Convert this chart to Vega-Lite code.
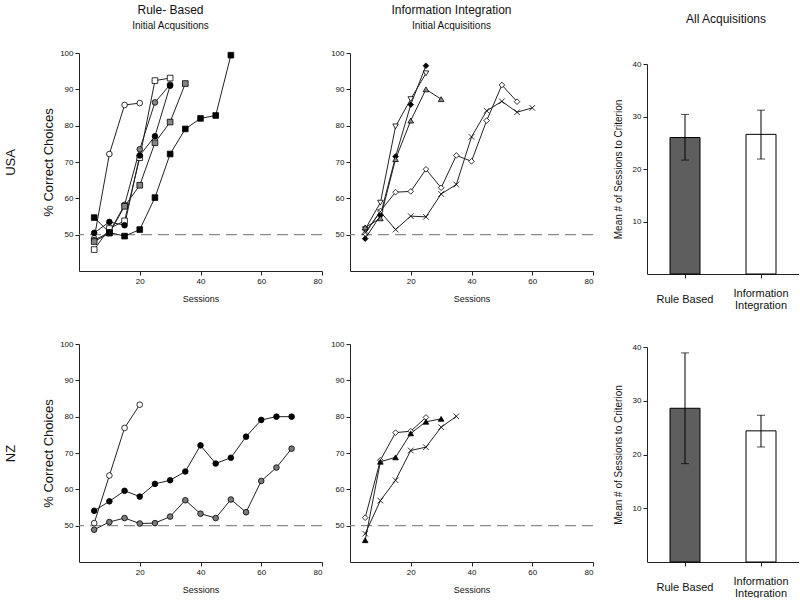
{
  "$schema": "https://vega.github.io/schema/vega-lite/v6.json",
  "background": "#ffffff",
  "padding": {"left": 4, "top": 4, "right": 0, "bottom": 0},
  "autosize": {"type": "pad"},
  "config": {
    "font": "Liberation Sans",
    "view": {"stroke": null},
    "axis": {"domainColor": "#222", "tickColor": "#222", "labelColor": "#111", "titleColor": "#111", "labelFont": "Liberation Sans", "titleFont": "Liberation Sans", "labelFontSize": 8, "titleFontWeight": "normal", "grid": false, "tickSize": 4, "labelPadding": 2, "domainWidth": 1, "tickWidth": 1},
    "title": {"font": "Liberation Sans", "subtitleFont": "Liberation Sans", "fontWeight": "normal", "color": "#111", "subtitleColor": "#111"}
  },
  "datasets": {
    "chance": [{"pct": 50}],
    "bars": [
      {"country": "USA", "group": "Rule Based", "mean": 26.0, "lo": 21.7, "hi": 30.4},
      {"country": "USA", "group": "Information Integration", "mean": 26.6, "lo": 21.9, "hi": 31.2},
      {"country": "NZ", "group": "Rule Based", "mean": 28.6, "lo": 18.3, "hi": 38.9},
      {"country": "NZ", "group": "Information Integration", "mean": 24.4, "lo": 21.4, "hi": 27.3}
    ],
    "curves": [
      {"panel": "RB-USA", "series": "RU1", "session": 5, "pct": 49},
      {"panel": "RB-USA", "series": "RU1", "session": 10, "pct": 72.2},
      {"panel": "RB-USA", "series": "RU1", "session": 15, "pct": 85.7},
      {"panel": "RB-USA", "series": "RU1", "session": 20, "pct": 86.2},
      {"panel": "RB-USA", "series": "RU2", "session": 5, "pct": 45.9},
      {"panel": "RB-USA", "series": "RU2", "session": 10, "pct": 51.7},
      {"panel": "RB-USA", "series": "RU2", "session": 15, "pct": 53.8},
      {"panel": "RB-USA", "series": "RU2", "session": 20, "pct": 71.2},
      {"panel": "RB-USA", "series": "RU2", "session": 25, "pct": 92.4},
      {"panel": "RB-USA", "series": "RU2", "session": 30, "pct": 93.1},
      {"panel": "RB-USA", "series": "RU3", "session": 5, "pct": 48.5},
      {"panel": "RB-USA", "series": "RU3", "session": 10, "pct": 50.6},
      {"panel": "RB-USA", "series": "RU3", "session": 15, "pct": 58.2},
      {"panel": "RB-USA", "series": "RU3", "session": 20, "pct": 73.5},
      {"panel": "RB-USA", "series": "RU3", "session": 25, "pct": 86.4},
      {"panel": "RB-USA", "series": "RU3", "session": 30, "pct": 91.3},
      {"panel": "RB-USA", "series": "RU4", "session": 5, "pct": 48.1},
      {"panel": "RB-USA", "series": "RU4", "session": 10, "pct": 50.4},
      {"panel": "RB-USA", "series": "RU4", "session": 15, "pct": 57.8},
      {"panel": "RB-USA", "series": "RU4", "session": 20, "pct": 63.6},
      {"panel": "RB-USA", "series": "RU4", "session": 25, "pct": 75.3},
      {"panel": "RB-USA", "series": "RU4", "session": 30, "pct": 81},
      {"panel": "RB-USA", "series": "RU4", "session": 35, "pct": 91.6},
      {"panel": "RB-USA", "series": "RU5", "session": 5, "pct": 50.5},
      {"panel": "RB-USA", "series": "RU5", "session": 10, "pct": 53.5},
      {"panel": "RB-USA", "series": "RU5", "session": 15, "pct": 52.6},
      {"panel": "RB-USA", "series": "RU5", "session": 20, "pct": 71.8},
      {"panel": "RB-USA", "series": "RU5", "session": 25, "pct": 77.1},
      {"panel": "RB-USA", "series": "RU5", "session": 30, "pct": 91},
      {"panel": "RB-USA", "series": "RU6", "session": 5, "pct": 54.7},
      {"panel": "RB-USA", "series": "RU6", "session": 10, "pct": 50.6},
      {"panel": "RB-USA", "series": "RU6", "session": 15, "pct": 49.6},
      {"panel": "RB-USA", "series": "RU6", "session": 20, "pct": 51.4},
      {"panel": "RB-USA", "series": "RU6", "session": 25, "pct": 60.2},
      {"panel": "RB-USA", "series": "RU6", "session": 30, "pct": 72.2},
      {"panel": "RB-USA", "series": "RU6", "session": 35, "pct": 79.1},
      {"panel": "RB-USA", "series": "RU6", "session": 40, "pct": 82},
      {"panel": "RB-USA", "series": "RU6", "session": 45, "pct": 82.8},
      {"panel": "RB-USA", "series": "RU6", "session": 50, "pct": 99.4},
      {"panel": "II-USA", "series": "IU1", "session": 5, "pct": 48.9},
      {"panel": "II-USA", "series": "IU1", "session": 10, "pct": 55.3},
      {"panel": "II-USA", "series": "IU1", "session": 15, "pct": 71.5},
      {"panel": "II-USA", "series": "IU1", "session": 20, "pct": 85.8},
      {"panel": "II-USA", "series": "IU1", "session": 25, "pct": 96.5},
      {"panel": "II-USA", "series": "IU2", "session": 5, "pct": 51.5},
      {"panel": "II-USA", "series": "IU2", "session": 10, "pct": 58.8},
      {"panel": "II-USA", "series": "IU2", "session": 15, "pct": 79.8},
      {"panel": "II-USA", "series": "IU2", "session": 20, "pct": 87.3},
      {"panel": "II-USA", "series": "IU2", "session": 25, "pct": 94.4},
      {"panel": "II-USA", "series": "IU3", "session": 5, "pct": 52},
      {"panel": "II-USA", "series": "IU3", "session": 10, "pct": 54.5},
      {"panel": "II-USA", "series": "IU3", "session": 15, "pct": 70.8},
      {"panel": "II-USA", "series": "IU3", "session": 20, "pct": 81.4},
      {"panel": "II-USA", "series": "IU3", "session": 25, "pct": 90},
      {"panel": "II-USA", "series": "IU3", "session": 30, "pct": 87.3},
      {"panel": "II-USA", "series": "IU4", "session": 5, "pct": 50.3},
      {"panel": "II-USA", "series": "IU4", "session": 10, "pct": 56.5},
      {"panel": "II-USA", "series": "IU4", "session": 15, "pct": 61.7},
      {"panel": "II-USA", "series": "IU4", "session": 20, "pct": 61.9},
      {"panel": "II-USA", "series": "IU4", "session": 25, "pct": 68},
      {"panel": "II-USA", "series": "IU4", "session": 30, "pct": 62.9},
      {"panel": "II-USA", "series": "IU4", "session": 35, "pct": 71.8},
      {"panel": "II-USA", "series": "IU4", "session": 40, "pct": 70.2},
      {"panel": "II-USA", "series": "IU4", "session": 45, "pct": 81.4},
      {"panel": "II-USA", "series": "IU4", "session": 50, "pct": 91.2},
      {"panel": "II-USA", "series": "IU4", "session": 55, "pct": 86.6},
      {"panel": "II-USA", "series": "IU5", "session": 5, "pct": 50.6},
      {"panel": "II-USA", "series": "IU5", "session": 10, "pct": 56.3},
      {"panel": "II-USA", "series": "IU5", "session": 15, "pct": 51.4},
      {"panel": "II-USA", "series": "IU5", "session": 20, "pct": 55.1},
      {"panel": "II-USA", "series": "IU5", "session": 25, "pct": 54.9},
      {"panel": "II-USA", "series": "IU5", "session": 30, "pct": 61.2},
      {"panel": "II-USA", "series": "IU5", "session": 35, "pct": 63.8},
      {"panel": "II-USA", "series": "IU5", "session": 40, "pct": 76.9},
      {"panel": "II-USA", "series": "IU5", "session": 45, "pct": 84.1},
      {"panel": "II-USA", "series": "IU5", "session": 50, "pct": 86.7},
      {"panel": "II-USA", "series": "IU5", "session": 55, "pct": 83.7},
      {"panel": "II-USA", "series": "IU5", "session": 60, "pct": 84.9},
      {"panel": "RB-NZ", "series": "RN1", "session": 5, "pct": 50.7},
      {"panel": "RB-NZ", "series": "RN1", "session": 10, "pct": 63.8},
      {"panel": "RB-NZ", "series": "RN1", "session": 15, "pct": 76.9},
      {"panel": "RB-NZ", "series": "RN1", "session": 20, "pct": 83.3},
      {"panel": "RB-NZ", "series": "RN2", "session": 5, "pct": 54.1},
      {"panel": "RB-NZ", "series": "RN2", "session": 10, "pct": 56.7},
      {"panel": "RB-NZ", "series": "RN2", "session": 15, "pct": 59.6},
      {"panel": "RB-NZ", "series": "RN2", "session": 20, "pct": 58},
      {"panel": "RB-NZ", "series": "RN2", "session": 25, "pct": 61.5},
      {"panel": "RB-NZ", "series": "RN2", "session": 30, "pct": 62.5},
      {"panel": "RB-NZ", "series": "RN2", "session": 35, "pct": 64.9},
      {"panel": "RB-NZ", "series": "RN2", "session": 40, "pct": 72.1},
      {"panel": "RB-NZ", "series": "RN2", "session": 45, "pct": 67.1},
      {"panel": "RB-NZ", "series": "RN2", "session": 50, "pct": 68.7},
      {"panel": "RB-NZ", "series": "RN2", "session": 55, "pct": 74.5},
      {"panel": "RB-NZ", "series": "RN2", "session": 60, "pct": 79.1},
      {"panel": "RB-NZ", "series": "RN2", "session": 65, "pct": 80},
      {"panel": "RB-NZ", "series": "RN2", "session": 70, "pct": 80},
      {"panel": "RB-NZ", "series": "RN3", "session": 5, "pct": 48.9},
      {"panel": "RB-NZ", "series": "RN3", "session": 10, "pct": 51},
      {"panel": "RB-NZ", "series": "RN3", "session": 15, "pct": 52.1},
      {"panel": "RB-NZ", "series": "RN3", "session": 20, "pct": 50.6},
      {"panel": "RB-NZ", "series": "RN3", "session": 25, "pct": 50.7},
      {"panel": "RB-NZ", "series": "RN3", "session": 30, "pct": 52.5},
      {"panel": "RB-NZ", "series": "RN3", "session": 35, "pct": 57},
      {"panel": "RB-NZ", "series": "RN3", "session": 40, "pct": 53.3},
      {"panel": "RB-NZ", "series": "RN3", "session": 45, "pct": 52.1},
      {"panel": "RB-NZ", "series": "RN3", "session": 50, "pct": 57.2},
      {"panel": "RB-NZ", "series": "RN3", "session": 55, "pct": 53.7},
      {"panel": "RB-NZ", "series": "RN3", "session": 60, "pct": 62.3},
      {"panel": "RB-NZ", "series": "RN3", "session": 65, "pct": 66},
      {"panel": "RB-NZ", "series": "RN3", "session": 70, "pct": 71.2},
      {"panel": "II-NZ", "series": "IN1", "session": 5, "pct": 52.2},
      {"panel": "II-NZ", "series": "IN1", "session": 10, "pct": 68},
      {"panel": "II-NZ", "series": "IN1", "session": 15, "pct": 75.6},
      {"panel": "II-NZ", "series": "IN1", "session": 20, "pct": 76},
      {"panel": "II-NZ", "series": "IN1", "session": 25, "pct": 79.8},
      {"panel": "II-NZ", "series": "IN2", "session": 5, "pct": 46},
      {"panel": "II-NZ", "series": "IN2", "session": 10, "pct": 67.6},
      {"panel": "II-NZ", "series": "IN2", "session": 15, "pct": 68.8},
      {"panel": "II-NZ", "series": "IN2", "session": 20, "pct": 75.4},
      {"panel": "II-NZ", "series": "IN2", "session": 25, "pct": 78.6},
      {"panel": "II-NZ", "series": "IN2", "session": 30, "pct": 79.4},
      {"panel": "II-NZ", "series": "IN3", "session": 5, "pct": 47.8},
      {"panel": "II-NZ", "series": "IN3", "session": 10, "pct": 56.9},
      {"panel": "II-NZ", "series": "IN3", "session": 15, "pct": 62.5},
      {"panel": "II-NZ", "series": "IN3", "session": 20, "pct": 70.7},
      {"panel": "II-NZ", "series": "IN3", "session": 25, "pct": 71.6},
      {"panel": "II-NZ", "series": "IN3", "session": 30, "pct": 77.1},
      {"panel": "II-NZ", "series": "IN3", "session": 35, "pct": 80.1}
    ]
  },
  "columns": 3,
  "bounds": "flush",
  "spacing": {"row": 70, "column": 28},
  "concat": [
    {
      "width": 243, "height": 218,
      "title": {"text": "Rule- Based", "subtitle": "Initial Acqusitions", "fontSize": 12, "subtitleFontSize": 10, "subtitlePadding": 4, "anchor": "middle", "frame": "group", "dx": -30, "offset": 17},
      "layer": [
        {"data": {"name": "chance"}, "mark": {"type": "rule", "color": "#8a8a8a", "strokeDash": [11, 6], "strokeWidth": 1.3},
         "encoding": {"y": {"field": "pct", "type": "quantitative", "scale": {"domain": [40, 100], "nice": false}, "axis": {"values": [50, 60, 70, 80, 90, 100], "title": ["USA", "% Correct Choices"], "titleFontSize": 13, "titleLineHeight": 38, "titlePadding": 4.5}}}},
        {"data": {"name": "curves"}, "transform": [{"filter": "datum.panel === 'RB-USA'"}], "mark": {"type": "line", "color": "#222", "strokeWidth": 1},
         "encoding": {"x": {"field": "session", "type": "quantitative", "scale": {"domain": [0, 80], "nice": false}, "axis": {"values": [20, 40, 60, 80], "title": "Sessions", "titleFontSize": 9, "titlePadding": 9}},
                      "y": {"field": "pct", "type": "quantitative", "scale": {"domain": [40, 100], "nice": false}, "axis": {"values": [50, 60, 70, 80, 90, 100], "title": ["USA", "% Correct Choices"], "titleFontSize": 13, "titleLineHeight": 38, "titlePadding": 4.5}},
                      "detail": {"field": "series"}}},
        {"data": {"name": "curves"}, "transform": [{"filter": "datum.panel === 'RB-USA'"}], "mark": {"type": "point", "filled": true, "size": 32, "stroke": "#000", "strokeWidth": 0.8, "opacity": 1},
         "encoding": {"x": {"field": "session", "type": "quantitative"},
                      "y": {"field": "pct", "type": "quantitative"},
                      "shape": {"field": "series", "legend": null, "scale": {"domain": ["RU1","RU2","RU3","RU4","RU5","RU6","IU1","IU2","IU3","IU4","IU5","RN1","RN2","RN3","IN1","IN2","IN3"], "range": ["circle","square","circle","square","circle","square","diamond","triangle-down","triangle-up","diamond","M-1,-1L1,1M-1,1L1,-1","circle","circle","circle","diamond","triangle-up","M-1,-1L1,1M-1,1L1,-1"]}},
                      "fill": {"field": "series", "legend": null, "scale": {"domain": ["RU1","RU2","RU3","RU4","RU5","RU6","IU1","IU2","IU3","IU4","IU5","RN1","RN2","RN3","IN1","IN2","IN3"], "range": ["#ffffff","#ffffff","#858585","#858585","#000000","#000000","#000000","#ffffff","#8c8c8c","#ffffff","#ffffff","#ffffff","#000000","#7a7a7a","#ffffff","#000000","#ffffff"]}}}}
      ]
    },
    {
      "width": 243, "height": 218,
      "title": {"text": "Information Integration", "subtitle": "Initial Acquisitions", "fontSize": 12, "subtitleFontSize": 10, "subtitlePadding": 4, "anchor": "middle", "frame": "group", "dx": -20, "offset": 17},
      "layer": [
        {"data": {"name": "chance"}, "mark": {"type": "rule", "color": "#8a8a8a", "strokeDash": [11, 6], "strokeWidth": 1.3},
         "encoding": {"y": {"field": "pct", "type": "quantitative", "scale": {"domain": [40, 100], "nice": false}, "axis": {"values": [50, 60, 70, 80, 90, 100], "title": null}}}},
        {"data": {"name": "curves"}, "transform": [{"filter": "datum.panel === 'II-USA'"}], "mark": {"type": "line", "color": "#222", "strokeWidth": 1},
         "encoding": {"x": {"field": "session", "type": "quantitative", "scale": {"domain": [0, 80], "nice": false}, "axis": {"values": [20, 40, 60, 80], "title": "Sessions", "titleFontSize": 9, "titlePadding": 9}},
                      "y": {"field": "pct", "type": "quantitative", "scale": {"domain": [40, 100], "nice": false}, "axis": {"values": [50, 60, 70, 80, 90, 100], "title": null}},
                      "detail": {"field": "series"}}},
        {"data": {"name": "curves"}, "transform": [{"filter": "datum.panel === 'II-USA'"}], "mark": {"type": "point", "filled": true, "size": 32, "stroke": "#000", "strokeWidth": 0.8, "opacity": 1},
         "encoding": {"x": {"field": "session", "type": "quantitative"},
                      "y": {"field": "pct", "type": "quantitative"},
                      "shape": {"field": "series", "legend": null, "scale": {"domain": ["RU1","RU2","RU3","RU4","RU5","RU6","IU1","IU2","IU3","IU4","IU5","RN1","RN2","RN3","IN1","IN2","IN3"], "range": ["circle","square","circle","square","circle","square","diamond","triangle-down","triangle-up","diamond","M-1,-1L1,1M-1,1L1,-1","circle","circle","circle","diamond","triangle-up","M-1,-1L1,1M-1,1L1,-1"]}},
                      "fill": {"field": "series", "legend": null, "scale": {"domain": ["RU1","RU2","RU3","RU4","RU5","RU6","IU1","IU2","IU3","IU4","IU5","RN1","RN2","RN3","IN1","IN2","IN3"], "range": ["#ffffff","#ffffff","#858585","#858585","#000000","#000000","#000000","#ffffff","#8c8c8c","#ffffff","#ffffff","#ffffff","#000000","#7a7a7a","#ffffff","#000000","#ffffff"]}}}}
      ]
    },
    {
      "width": 178, "height": 221,
      "title": {"text": "All Acquisitions", "fontSize": 12, "anchor": "middle", "frame": "group", "dx": 16, "offset": 27},
      "data": {"name": "bars"},
      "transform": [{"filter": "datum.country === 'USA'"}],
      "layer": [
        {"mark": {"type": "bar", "width": 30, "stroke": "#000", "strokeWidth": 1},
         "encoding": {"x": {"field": "group", "type": "nominal", "sort": ["Rule Based", "Information Integration"], "scale": {"range": [26, 178], "paddingInner": 0, "paddingOuter": 0}, "axis": {"title": null, "labelAngle": 0, "labelFontSize": 11, "labelPadding": {"condition": {"test": "datum.value === 'Information Integration'", "value": 15}, "value": 21}, "labelBaseline": "middle", "labelLineHeight": 12, "labelExpr": "datum.value === 'Information Integration' ? ['Information', 'Integration'] : datum.value"}},
                      "y": {"field": "mean", "type": "quantitative", "scale": {"domain": [0, 40], "nice": false, "range": [221, 11]}, "axis": {"values": [10, 20, 30, 40], "title": "Mean # of Sessions to Criterion", "titleFontSize": 10, "titlePadding": 9, "offset": -26}},
                      "color": {"field": "group", "type": "nominal", "legend": null, "scale": {"domain": ["Rule Based", "Information Integration"], "range": ["#5e5e5e", "#ffffff"]}}}},
        {"mark": {"type": "rule", "color": "#000", "strokeWidth": 1},
         "encoding": {"x": {"field": "group", "type": "nominal", "sort": ["Rule Based", "Information Integration"]},
                      "y": {"field": "lo", "type": "quantitative", "axis": {"values": [10, 20, 30, 40], "title": "Mean # of Sessions to Criterion", "titleFontSize": 10, "titlePadding": 9, "offset": -26}},
                      "y2": {"field": "hi"}}},
        {"mark": {"type": "tick", "orient": "horizontal", "size": 8, "thickness": 1, "color": "#000"},
         "encoding": {"x": {"field": "group", "type": "nominal", "sort": ["Rule Based", "Information Integration"]},
                      "y": {"field": "lo", "type": "quantitative", "axis": {"values": [10, 20, 30, 40], "title": "Mean # of Sessions to Criterion", "titleFontSize": 10, "titlePadding": 9, "offset": -26}}}},
        {"mark": {"type": "tick", "orient": "horizontal", "size": 8, "thickness": 1, "color": "#000"},
         "encoding": {"x": {"field": "group", "type": "nominal", "sort": ["Rule Based", "Information Integration"]},
                      "y": {"field": "hi", "type": "quantitative", "axis": {"values": [10, 20, 30, 40], "title": "Mean # of Sessions to Criterion", "titleFontSize": 10, "titlePadding": 9, "offset": -26}}}}
      ]
    },
    {
      "width": 243, "height": 218,
      "layer": [
        {"data": {"name": "chance"}, "mark": {"type": "rule", "color": "#8a8a8a", "strokeDash": [11, 6], "strokeWidth": 1.3},
         "encoding": {"y": {"field": "pct", "type": "quantitative", "scale": {"domain": [40, 100], "nice": false}, "axis": {"values": [50, 60, 70, 80, 90, 100], "title": ["NZ", "% Correct Choices"], "titleFontSize": 13, "titleLineHeight": 38, "titlePadding": 4.5}}}},
        {"data": {"name": "curves"}, "transform": [{"filter": "datum.panel === 'RB-NZ'"}], "mark": {"type": "line", "color": "#222", "strokeWidth": 1},
         "encoding": {"x": {"field": "session", "type": "quantitative", "scale": {"domain": [0, 80], "nice": false}, "axis": {"values": [20, 40, 60, 80], "title": "Sessions", "titleFontSize": 9, "titlePadding": 9}},
                      "y": {"field": "pct", "type": "quantitative", "scale": {"domain": [40, 100], "nice": false}, "axis": {"values": [50, 60, 70, 80, 90, 100], "title": ["NZ", "% Correct Choices"], "titleFontSize": 13, "titleLineHeight": 38, "titlePadding": 4.5}},
                      "detail": {"field": "series"}}},
        {"data": {"name": "curves"}, "transform": [{"filter": "datum.panel === 'RB-NZ'"}], "mark": {"type": "point", "filled": true, "size": 32, "stroke": "#000", "strokeWidth": 0.8, "opacity": 1},
         "encoding": {"x": {"field": "session", "type": "quantitative"},
                      "y": {"field": "pct", "type": "quantitative"},
                      "shape": {"field": "series", "legend": null, "scale": {"domain": ["RU1","RU2","RU3","RU4","RU5","RU6","IU1","IU2","IU3","IU4","IU5","RN1","RN2","RN3","IN1","IN2","IN3"], "range": ["circle","square","circle","square","circle","square","diamond","triangle-down","triangle-up","diamond","M-1,-1L1,1M-1,1L1,-1","circle","circle","circle","diamond","triangle-up","M-1,-1L1,1M-1,1L1,-1"]}},
                      "fill": {"field": "series", "legend": null, "scale": {"domain": ["RU1","RU2","RU3","RU4","RU5","RU6","IU1","IU2","IU3","IU4","IU5","RN1","RN2","RN3","IN1","IN2","IN3"], "range": ["#ffffff","#ffffff","#858585","#858585","#000000","#000000","#000000","#ffffff","#8c8c8c","#ffffff","#ffffff","#ffffff","#000000","#7a7a7a","#ffffff","#000000","#ffffff"]}}}}
      ]
    },
    {
      "width": 243, "height": 218,
      "layer": [
        {"data": {"name": "chance"}, "mark": {"type": "rule", "color": "#8a8a8a", "strokeDash": [11, 6], "strokeWidth": 1.3},
         "encoding": {"y": {"field": "pct", "type": "quantitative", "scale": {"domain": [40, 100], "nice": false}, "axis": {"values": [50, 60, 70, 80, 90, 100], "title": null}}}},
        {"data": {"name": "curves"}, "transform": [{"filter": "datum.panel === 'II-NZ'"}], "mark": {"type": "line", "color": "#222", "strokeWidth": 1},
         "encoding": {"x": {"field": "session", "type": "quantitative", "scale": {"domain": [0, 80], "nice": false}, "axis": {"values": [20, 40, 60, 80], "title": "Sessions", "titleFontSize": 9, "titlePadding": 9}},
                      "y": {"field": "pct", "type": "quantitative", "scale": {"domain": [40, 100], "nice": false}, "axis": {"values": [50, 60, 70, 80, 90, 100], "title": null}},
                      "detail": {"field": "series"}}},
        {"data": {"name": "curves"}, "transform": [{"filter": "datum.panel === 'II-NZ'"}], "mark": {"type": "point", "filled": true, "size": 32, "stroke": "#000", "strokeWidth": 0.8, "opacity": 1},
         "encoding": {"x": {"field": "session", "type": "quantitative"},
                      "y": {"field": "pct", "type": "quantitative"},
                      "shape": {"field": "series", "legend": null, "scale": {"domain": ["RU1","RU2","RU3","RU4","RU5","RU6","IU1","IU2","IU3","IU4","IU5","RN1","RN2","RN3","IN1","IN2","IN3"], "range": ["circle","square","circle","square","circle","square","diamond","triangle-down","triangle-up","diamond","M-1,-1L1,1M-1,1L1,-1","circle","circle","circle","diamond","triangle-up","M-1,-1L1,1M-1,1L1,-1"]}},
                      "fill": {"field": "series", "legend": null, "scale": {"domain": ["RU1","RU2","RU3","RU4","RU5","RU6","IU1","IU2","IU3","IU4","IU5","RN1","RN2","RN3","IN1","IN2","IN3"], "range": ["#ffffff","#ffffff","#858585","#858585","#000000","#000000","#000000","#ffffff","#8c8c8c","#ffffff","#ffffff","#ffffff","#000000","#7a7a7a","#ffffff","#000000","#ffffff"]}}}}
      ]
    },
    {
      "width": 178, "height": 218,
      "data": {"name": "bars"},
      "transform": [{"filter": "datum.country === 'NZ'"}],
      "layer": [
        {"mark": {"type": "bar", "width": 30, "stroke": "#000", "strokeWidth": 1},
         "encoding": {"x": {"field": "group", "type": "nominal", "sort": ["Rule Based", "Information Integration"], "scale": {"range": [26, 178], "paddingInner": 0, "paddingOuter": 0}, "axis": {"title": null, "labelAngle": 0, "labelFontSize": 11, "labelPadding": {"condition": {"test": "datum.value === 'Information Integration'", "value": 15}, "value": 21}, "labelBaseline": "middle", "labelLineHeight": 12, "labelExpr": "datum.value === 'Information Integration' ? ['Information', 'Integration'] : datum.value"}},
                      "y": {"field": "mean", "type": "quantitative", "scale": {"domain": [0, 40], "nice": false, "range": [218, 3]}, "axis": {"values": [10, 20, 30, 40], "title": "Mean # of Sessions to Criterion", "titleFontSize": 10, "titlePadding": 9, "offset": -26}},
                      "color": {"field": "group", "type": "nominal", "legend": null, "scale": {"domain": ["Rule Based", "Information Integration"], "range": ["#5e5e5e", "#ffffff"]}}}},
        {"mark": {"type": "rule", "color": "#000", "strokeWidth": 1},
         "encoding": {"x": {"field": "group", "type": "nominal", "sort": ["Rule Based", "Information Integration"]},
                      "y": {"field": "lo", "type": "quantitative", "axis": {"values": [10, 20, 30, 40], "title": "Mean # of Sessions to Criterion", "titleFontSize": 10, "titlePadding": 9, "offset": -26}},
                      "y2": {"field": "hi"}}},
        {"mark": {"type": "tick", "orient": "horizontal", "size": 8, "thickness": 1, "color": "#000"},
         "encoding": {"x": {"field": "group", "type": "nominal", "sort": ["Rule Based", "Information Integration"]},
                      "y": {"field": "lo", "type": "quantitative", "axis": {"values": [10, 20, 30, 40], "title": "Mean # of Sessions to Criterion", "titleFontSize": 10, "titlePadding": 9, "offset": -26}}}},
        {"mark": {"type": "tick", "orient": "horizontal", "size": 8, "thickness": 1, "color": "#000"},
         "encoding": {"x": {"field": "group", "type": "nominal", "sort": ["Rule Based", "Information Integration"]},
                      "y": {"field": "hi", "type": "quantitative", "axis": {"values": [10, 20, 30, 40], "title": "Mean # of Sessions to Criterion", "titleFontSize": 10, "titlePadding": 9, "offset": -26}}}}
      ]
    }
  ]
}
